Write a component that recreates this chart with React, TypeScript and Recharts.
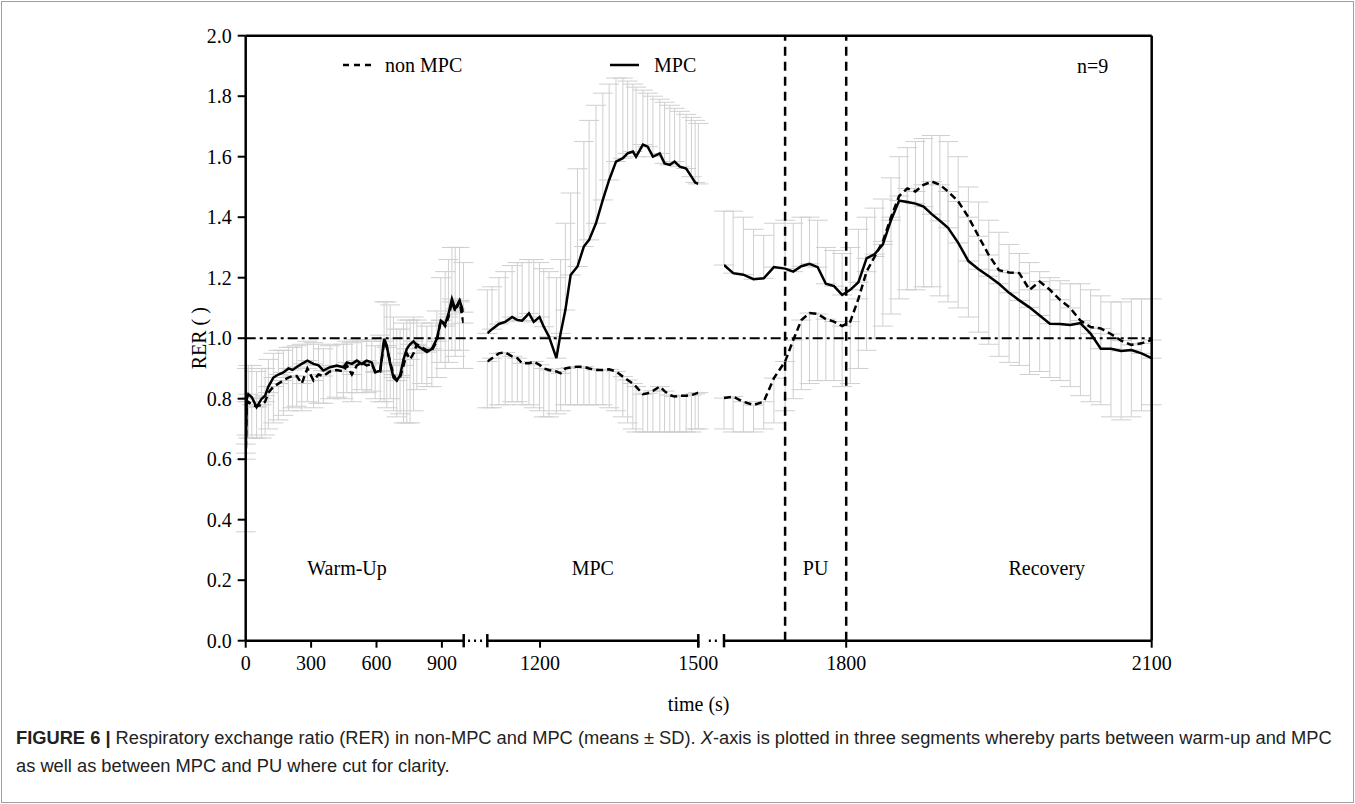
import React from 'react';
import {
  ComposedChart,
  Line,
  XAxis,
  YAxis,
  ErrorBar,
  ReferenceLine,
  ReferenceDot,
  Legend,
} from 'recharts';

const W = 1355;
const H = 804;
const TOP = 35.7;
const BOTTOM = 640.7;
const PLOT_LEFT = 245.7;
const PLOT_RIGHT = 1151.7;
const XAXIS_H = 40;
const SERIF = '"Liberation Serif", "Times New Roman", Times, serif';
const BAR_GRAY = '#cfcfcf';

// ---------- Segment 1: warm-up (0 - 1000 s) ----------
const t1 = [0, 5, 12, 28, 50, 73, 89, 104, 127, 150, 173, 196, 215, 234, 257, 283, 311, 334, 356, 387, 418, 448, 464, 487, 510, 532, 555, 578, 594, 617, 635, 647, 663, 678, 693, 708, 724, 739, 754, 770, 785, 808, 831, 854, 877, 895, 915, 930, 946, 961, 981, 999];
const mpc1 = [0.62, 0.8, 0.815, 0.805, 0.772, 0.8, 0.81, 0.84, 0.87, 0.88, 0.887, 0.9, 0.895, 0.905, 0.915, 0.926, 0.915, 0.91, 0.893, 0.904, 0.91, 0.904, 0.92, 0.915, 0.926, 0.915, 0.926, 0.92, 0.887, 0.893, 0.998, 0.976, 0.915, 0.87, 0.86, 0.877, 0.93, 0.965, 0.98, 0.99, 0.976, 0.965, 0.954, 0.965, 0.998, 1.058, 1.047, 1.08, 1.13, 1.097, 1.125, 1.086];
const mpcUp1 = [0.65, 0.9, 0.91, 0.91, 0.89, 0.9, 0.9, 0.93, 0.95, 0.96, 0.96, 0.97, 0.97, 0.975, 0.98, 0.99, 0.985, 0.98, 0.965, 0.975, 0.98, 0.98, 0.99, 0.985, 0.995, 0.99, 0.995, 0.99, 0.975, 1.01, 1.12, 1.12, 1.11, 1.07, 1.03, 1.03, 1.05, 1.06, 1.06, 1.07, 1.06, 1.05, 1.04, 1.05, 1.09, 1.2, 1.22, 1.26, 1.3, 1.3, 1.3, 1.25];
const non1 = [0.6, 0.79, 0.79, 0.78, 0.775, 0.78, 0.79, 0.82, 0.84, 0.85, 0.86, 0.87, 0.875, 0.875, 0.85, 0.9, 0.86, 0.88, 0.875, 0.89, 0.895, 0.89, 0.91, 0.88, 0.91, 0.92, 0.91, 0.915, 0.89, 0.89, 0.99, 0.97, 0.92, 0.88, 0.86, 0.87, 0.91, 0.95, 0.93, 0.95, 0.98, 0.97, 0.96, 0.96, 0.99, 1.06, 1.04, 1.07, 1.12, 1.09, 1.12, 1.05];
const nonLow1 = [0.36, 0.68, 0.67, 0.67, 0.67, 0.67, 0.68, 0.7, 0.72, 0.73, 0.745, 0.76, 0.77, 0.775, 0.76, 0.79, 0.77, 0.785, 0.785, 0.8, 0.805, 0.8, 0.82, 0.79, 0.82, 0.83, 0.82, 0.825, 0.8, 0.79, 0.79, 0.77, 0.8, 0.76, 0.74, 0.75, 0.72, 0.72, 0.72, 0.76, 0.83, 0.85, 0.84, 0.84, 0.87, 0.92, 0.9, 0.92, 0.96, 0.94, 0.96, 0.9];

// ---------- Segment 2: MPC (1100 - 1500 s) ----------
const t2 = [1100, 1109, 1122, 1134, 1147, 1157, 1166, 1179, 1188, 1199, 1207, 1217, 1231, 1239, 1248, 1258, 1271, 1283, 1293, 1306, 1319, 1331, 1344, 1357, 1366, 1376, 1382, 1395, 1404, 1414, 1427, 1436, 1446, 1455, 1465, 1477, 1487, 1494, 1500];
const mpc2 = [1.016, 1.03, 1.047, 1.054, 1.07, 1.06, 1.058, 1.082, 1.054, 1.07, 1.038, 1.005, 0.934, 1.016, 1.093, 1.209, 1.237, 1.303, 1.325, 1.38, 1.457, 1.523, 1.584, 1.595, 1.611, 1.617, 1.6, 1.64, 1.633, 1.6, 1.611, 1.578, 1.573, 1.584, 1.567, 1.561, 1.534, 1.515, 1.51];
const mpcUp2 = [1.16, 1.17, 1.2, 1.22, 1.24, 1.25, 1.25, 1.26, 1.26, 1.25, 1.23, 1.22, 1.2, 1.26, 1.38, 1.48, 1.56, 1.65, 1.72, 1.77, 1.81, 1.84, 1.86, 1.86, 1.85, 1.84, 1.83, 1.82, 1.81, 1.8, 1.79, 1.78, 1.77, 1.76, 1.75, 1.74, 1.73, 1.72, 1.71];
const non2 = [0.923, 0.934, 0.95, 0.953, 0.94, 0.934, 0.917, 0.917, 0.923, 0.912, 0.9, 0.895, 0.89, 0.884, 0.9, 0.903, 0.906, 0.906, 0.9, 0.895, 0.895, 0.897, 0.89, 0.873, 0.862, 0.85, 0.84, 0.815, 0.818, 0.826, 0.84, 0.825, 0.812, 0.807, 0.81, 0.81, 0.812, 0.816, 0.82];
const nonLow2 = [0.77, 0.77, 0.78, 0.78, 0.79, 0.79, 0.78, 0.78, 0.77, 0.76, 0.74, 0.74, 0.75, 0.76, 0.78, 0.78, 0.78, 0.78, 0.78, 0.78, 0.78, 0.77, 0.76, 0.74, 0.72, 0.7, 0.69, 0.69, 0.69, 0.69, 0.69, 0.69, 0.69, 0.69, 0.69, 0.69, 0.69, 0.7, 0.7];

// ---------- Segment 3: PU + recovery (1680 - 2100 s) ----------
const t3 = [1680, 1689, 1699, 1709, 1719, 1729, 1740, 1748, 1756, 1764, 1772, 1780, 1788, 1796, 1804, 1812, 1820, 1828, 1836, 1844, 1852, 1860, 1868, 1876, 1884, 1892, 1900, 1910, 1920, 1930, 1940, 1950, 1960, 1970, 1980, 1990, 2000, 2010, 2020, 2030, 2040, 2050, 2060, 2070, 2080, 2090, 2100];
const mpc3 = [1.242, 1.215, 1.21, 1.195, 1.198, 1.235, 1.23, 1.22, 1.238, 1.246, 1.235, 1.18, 1.172, 1.143, 1.16, 1.185, 1.264, 1.278, 1.31, 1.39, 1.455, 1.45, 1.445, 1.435, 1.41, 1.388, 1.365, 1.315, 1.255, 1.228, 1.205, 1.18, 1.15, 1.125, 1.102, 1.075, 1.048, 1.047, 1.044, 1.05, 1.015, 0.965, 0.965, 0.958, 0.961, 0.95, 0.934];
const mpcUp3 = [1.42, 1.42, 1.4, 1.36, 1.34, 1.38, 1.39, 1.38, 1.4, 1.4, 1.39, 1.3, 1.29, 1.28, 1.3, 1.36, 1.4, 1.43, 1.46, 1.53, 1.6, 1.63, 1.65, 1.66, 1.67, 1.67, 1.65, 1.6, 1.5, 1.45, 1.39, 1.35, 1.31, 1.28, 1.25, 1.22, 1.2, 1.19, 1.18, 1.18, 1.16, 1.14, 1.12, 1.12, 1.13, 1.13, 1.13];
const non3 = [0.802, 0.807, 0.79, 0.779, 0.79, 0.868, 0.923, 0.994, 1.06, 1.083, 1.08, 1.063, 1.055, 1.04, 1.055, 1.13, 1.22, 1.27, 1.32, 1.4, 1.47, 1.495, 1.485, 1.507, 1.518, 1.507, 1.485, 1.452, 1.4, 1.337, 1.275, 1.225, 1.217, 1.215, 1.16, 1.187, 1.16, 1.127, 1.1, 1.058, 1.037, 1.032, 1.014, 0.992, 0.978, 0.983, 0.994];
const nonLow3 = [0.7, 0.69, 0.69, 0.69, 0.7, 0.72, 0.76, 0.8, 0.83, 0.85, 0.86, 0.86, 0.86, 0.84, 0.85, 0.9, 0.96, 1.0, 1.04, 1.08, 1.13, 1.16, 1.16, 1.17, 1.17, 1.14, 1.12, 1.1, 1.07, 1.02, 0.98, 0.94, 0.92, 0.91, 0.88, 0.89, 0.87, 0.86, 0.84, 0.81, 0.79, 0.78, 0.74, 0.73, 0.74, 0.76, 0.78];

// ---------- axes ----------
const yTicks = [0, 0.2, 0.4, 0.6, 0.8, 1.0, 1.2, 1.4, 1.6, 1.8, 2.0];
const seg1Ticks = [0, 300, 600, 900];
const seg2Ticks = [1200, 1500];
const seg3Ticks = [1800, 2100];
const seg1Domain: [number, number] = [0, 1000];
const seg2Domain: [number, number] = [1100, 1500];
const seg3Domain: [number, number] = [1680, 2100];
const puLines = [1740, 1800];

function buildRows(t: number[], mpc: number[], mpcUp: number[], non: number[], nonLow: number[]) {
  return t.map((time, i) => ({
    t: time,
    mpc: mpc[i],
    non: non[i],
    mpcE: mpc[i],
    nonE: non[i],
    mpcErr: [0, Math.max(0, mpcUp[i] - mpc[i])],
    nonErr: [Math.max(0, non[i] - nonLow[i]), 0],
  }));
}

const rows1 = buildRows(t1, mpc1, mpcUp1, non1, nonLow1);
const rows2 = buildRows(t2, mpc2, mpcUp2, non2, nonLow2);
const rows3 = buildRows(t3, mpc3, mpcUp3, non3, nonLow3);

const tickStyle = { fill: '#000', fontSize: 20, fontFamily: SERIF };
const labelStyle = { fill: '#000', fontSize: 20, fontFamily: SERIF };

function breakCap(x: number, key: string) {
  return (
    <ReferenceLine
      key={key}
      segment={[{ x, y: -0.022 }, { x, y: 0.022 }]}
      stroke="#000"
      strokeWidth={2.5}
      ifOverflow="visible"
    />
  );
}

function Segment(props: {
  rows: any[];
  domain: [number, number];
  ticks: number[];
  x0: number;
  x1: number;
  children?: React.ReactNode;
}) {
  const { rows, domain, ticks, x0, x1, children } = props;
  return (
    <div style={{ position: 'absolute', left: 0, top: 0 }}>
      <ComposedChart
        width={W}
        height={H}
        data={rows}
        margin={{ top: TOP, left: x0, right: W - x1, bottom: H - BOTTOM - XAXIS_H }}
      >
        <XAxis
          dataKey="t"
          type="number"
          domain={domain}
          ticks={ticks}
          allowDataOverflow
          interval={0}
          height={XAXIS_H}
          tickSize={7}
          tickMargin={8}
          axisLine={{ stroke: '#000', strokeWidth: 2.5 }}
          tickLine={{ stroke: '#000', strokeWidth: 2 }}
          tick={tickStyle}
        />
        <YAxis hide type="number" domain={[0, 2]} allowDataOverflow />
        <Line dataKey="mpcE" stroke="none" dot={false} isAnimationActive={false} legendType="none">
          <ErrorBar dataKey="mpcErr" width={10} stroke={BAR_GRAY} strokeWidth={1} direction="y" />
        </Line>
        <Line dataKey="nonE" stroke="none" dot={false} isAnimationActive={false} legendType="none">
          <ErrorBar dataKey="nonErr" width={10} stroke={BAR_GRAY} strokeWidth={1} direction="y" />
        </Line>
        <Line
          dataKey="non"
          stroke="#000"
          strokeWidth={2.5}
          strokeDasharray="7 4"
          dot={false}
          isAnimationActive={false}
        />
        <Line dataKey="mpc" stroke="#000" strokeWidth={2.5} dot={false} isAnimationActive={false} />
        {children}
      </ComposedChart>
    </div>
  );
}

function YLabel() {
  const cx = 199;
  const cy = (TOP + BOTTOM) / 2;
  return (
    <text
      x={cx}
      y={cy}
      transform={`rotate(-90 ${cx} ${cy})`}
      textAnchor="middle"
      dominantBaseline="central"
      fontFamily={SERIF}
      fontSize={20}
      fill="#000"
    >
      RER ( )
    </text>
  );
}

function LegendContent() {
  const item = (left: number, text: string, dashed: boolean, textLeft: number) => (
    <React.Fragment key={text}>
      <svg style={{ position: 'absolute', left, top: 60 }} width={29} height={10}>
        <line
          x1={0}
          y1={5}
          x2={29}
          y2={5}
          stroke="#000"
          strokeWidth={2.5}
          strokeDasharray={dashed ? '6 5' : undefined}
        />
      </svg>
      <div
        style={{
          position: 'absolute',
          left: textLeft,
          top: 53,
          lineHeight: '24px',
          fontSize: 20,
          fontFamily: SERIF,
          color: '#000',
          whiteSpace: 'nowrap',
        }}
      >
        {text}
      </div>
    </React.Fragment>
  );
  return (
    <div style={{ position: 'relative', width: W, height: 0 }}>
      {item(343, 'non MPC', true, 385)}
      {item(610, 'MPC', false, 654)}
    </div>
  );
}

export default function App() {
  return (
    <div
      style={{
        position: 'absolute',
        left: 0,
        top: 0,
        width: W,
        height: H,
        background: '#fff',
        overflow: 'hidden',
      }}
    >
      <div
        style={{
          position: 'absolute',
          left: 1,
          top: 1,
          width: W - 4,
          height: H - 4,
          border: '1px solid #a0a0a0',
        }}
      />

      <Segment rows={rows1} domain={seg1Domain} ticks={seg1Ticks} x0={PLOT_LEFT} x1={463.7}>
        {breakCap(1000, 'c1')}
        <ReferenceLine
          segment={[{ x: 1020, y: 0 }, { x: 1092, y: 0 }]}
          stroke="#000"
          strokeWidth={2.5}
          strokeDasharray="2 4"
          ifOverflow="visible"
        />
        <ReferenceDot
          x={465}
          y={0.24}
          r={0}
          fill="none"
          stroke="none"
          label={{ value: 'Warm-Up', position: 'center', ...labelStyle }}
        />
      </Segment>

      <Segment rows={rows2} domain={seg2Domain} ticks={seg2Ticks} x0={487.3} x1={698.3}>
        {breakCap(1100, 'c2')}
        {breakCap(1500, 'c3')}
        <ReferenceLine
          segment={[{ x: 1520, y: 0 }, { x: 1542, y: 0 }]}
          stroke="#000"
          strokeWidth={2.5}
          strokeDasharray="2 4"
          ifOverflow="visible"
        />
        <ReferenceDot
          x={1300}
          y={0.24}
          r={0}
          fill="none"
          stroke="none"
          label={{ value: 'MPC', position: 'center', ...labelStyle }}
        />
      </Segment>

      <Segment rows={rows3} domain={seg3Domain} ticks={seg3Ticks} x0={724} x1={PLOT_RIGHT}>
        {breakCap(1680, 'c4')}
        {puLines.map((x) => (
          <ReferenceLine key={x} x={x} stroke="#000" strokeWidth={2.5} strokeDasharray="9 6" />
        ))}
        <ReferenceDot
          x={1770}
          y={0.24}
          r={0}
          fill="none"
          stroke="none"
          label={{ value: 'PU', position: 'center', ...labelStyle }}
        />
        <ReferenceDot
          x={1997}
          y={0.24}
          r={0}
          fill="none"
          stroke="none"
          label={{ value: 'Recovery', position: 'center', ...labelStyle }}
        />
        <ReferenceDot
          x={2042}
          y={1.9}
          r={0}
          fill="none"
          stroke="none"
          label={{ value: 'n=9', position: 'center', ...labelStyle }}
        />
      </Segment>

      {/* frame, y axis, reference line at RER = 1 and legend (x axis hidden, spans the whole frame) */}
      <div style={{ position: 'absolute', left: 0, top: 0 }}>
        <ComposedChart
          width={W}
          height={H}
          data={rows1}
          margin={{ top: TOP, left: PLOT_LEFT - 80, right: W - PLOT_RIGHT, bottom: H - BOTTOM }}
        >
          <XAxis dataKey="t" type="number" domain={seg1Domain} allowDataOverflow hide />
          <YAxis
            type="number"
            domain={[0, 2]}
            allowDataOverflow
            ticks={yTicks}
            interval={0}
            width={80}
            tickSize={8}
            tickMargin={6}
            tickFormatter={(v: number) => v.toFixed(1)}
            axisLine={{ stroke: '#000', strokeWidth: 2.5 }}
            tickLine={{ stroke: '#000', strokeWidth: 2 }}
            tick={tickStyle}
            label={<YLabel />}
          />
          <Line dataKey="mpc" stroke="none" dot={false} isAnimationActive={false} legendType="none" />
          <ReferenceLine y={1} stroke="#000" strokeWidth={2} strokeDasharray="10 4 3 4" />
          <ReferenceLine y={2} stroke="#000" strokeWidth={2.5} />
          <ReferenceLine x={seg1Domain[1]} stroke="#000" strokeWidth={2.5} />
          <Legend
            content={<LegendContent />}
            verticalAlign="top"
            align="left"
            wrapperStyle={{ position: 'absolute', left: 0, top: 0, width: W, height: 0 }}
          />
        </ComposedChart>
      </div>

      <div
        style={{
          position: 'absolute',
          left: 698.7 - 100,
          width: 200,
          top: 692,
          textAlign: 'center',
          fontFamily: SERIF,
          fontSize: 20,
          lineHeight: '24px',
          color: '#000',
        }}
      >
        time (s)
      </div>

      <div
        style={{
          position: 'absolute',
          left: 16,
          top: 724,
          width: 1330,
          fontFamily: '"Liberation Sans", Arial, sans-serif',
          fontSize: 18.3,
          lineHeight: '28px',
          color: '#222',
        }}
      >
        <div style={{ whiteSpace: 'nowrap' }}>
          <b>FIGURE 6 |</b> Respiratory exchange ratio (RER) in non-MPC and MPC (means ± SD). <i>X</i>-axis is
          plotted in three segments whereby parts between warm-up and MPC
        </div>
        <div style={{ whiteSpace: 'nowrap' }}>as well as between MPC and PU where cut for clarity.</div>
      </div>
    </div>
  );
}
